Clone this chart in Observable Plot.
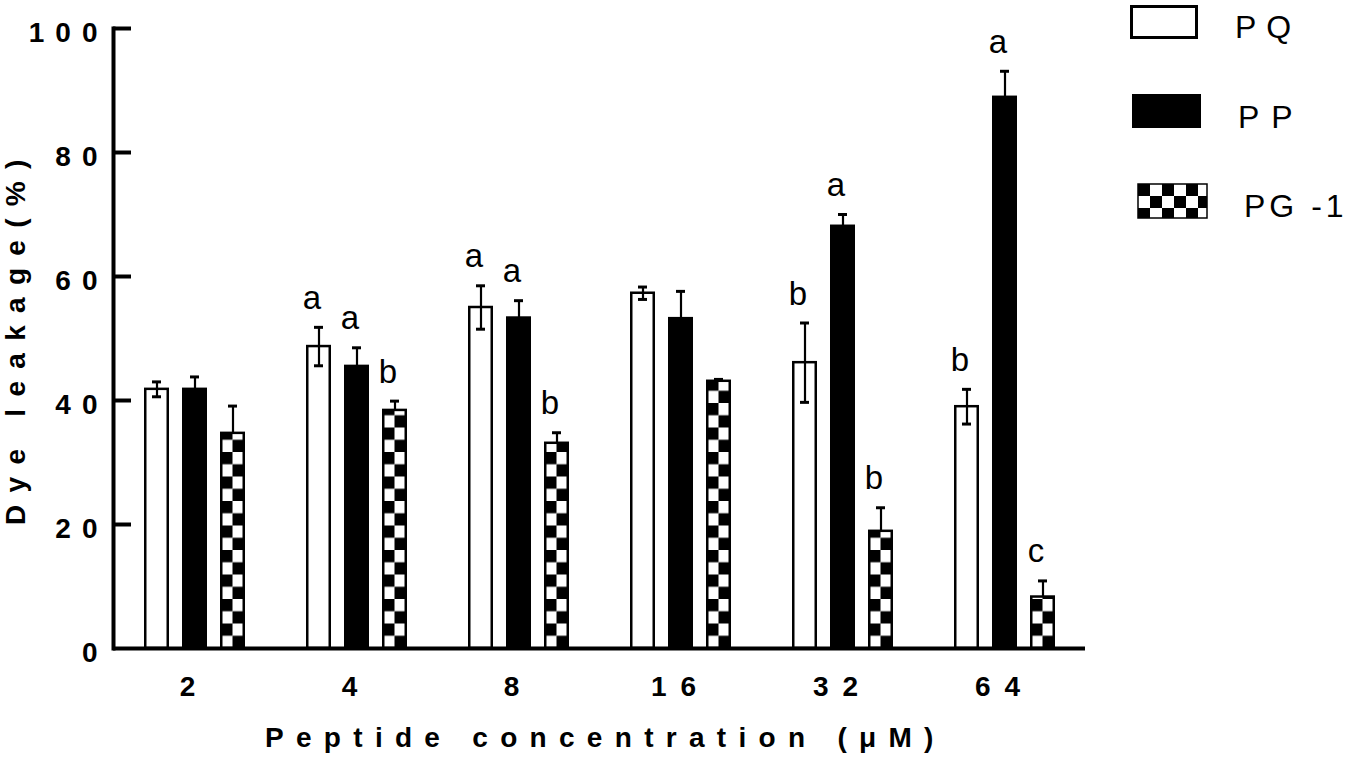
<!DOCTYPE html>
<html>
<head>
<meta charset="utf-8">
<script src="https://cdn.jsdelivr.net/npm/d3@7"></script>
<script src="https://cdn.jsdelivr.net/npm/@observablehq/plot@0.6"></script>
<style>
  html, body { margin: 0; padding: 0; background: #fff; }
  #wrap { position: relative; width: 1350px; height: 758px; overflow: hidden; font-family: "Liberation Sans", Arial, sans-serif; }
  #legend { position: absolute; left: 1100px; top: 0px; }
</style>
</head>
<body>
<div id="wrap"></div>
<script>
// ---- data ----
const concentrations = ["2", "4", "8", "16", "32", "64"];
const seriesNames = ["PQ", "PP", "PG-1"];
const pqValues = [41.8, 48.7, 55.0, 57.3, 46.1, 39.0];
const pqErrors = [1.2, 3.1, 3.5, 1.0, 6.4, 2.8];
const ppValues = [41.8, 45.5, 53.3, 53.2, 68.1, 88.9];
const ppErrors = [2.0, 3.0, 2.8, 4.4, 1.9, 4.2];
const pgValues = [34.7, 38.4, 33.1, 43.1, 18.9, 8.3];
const pgErrors = [4.4, 1.5, 1.7, 0.3, 3.8, 2.6];
const pqLetters = ["", "a", "a", "", "b", "b"];
const ppLetters = ["", "a", "a", "", "a", "a"];
const pgLetters = ["", "b", "b", "", "b", "c"];
const yTicks = [0, 20, 40, 60, 80, 100];
const xTitle = "Peptide concentration (μM)";
const yTitle = "Dye leakage(%)";

const seriesTable = [
  {name: "PQ", values: pqValues, errors: pqErrors, letters: pqLetters},
  {name: "PP", values: ppValues, errors: ppErrors, letters: ppLetters},
  {name: "PG-1", values: pgValues, errors: pgErrors, letters: pgLetters}
];
const rows = [];
for (const s of seriesTable) {
  concentrations.forEach((c, i) => {
    rows.push({conc: c, series: s.name, value: s.values[i], error: s.errors[i], letter: s.letters[i]});
  });
}

const W = 1350, H = 758;
const mL = 113, mR = 265, mT = 28, mB = 110;
const facetW = (W - mL - mR) / concentrations.length;
const font = '"Liberation Sans", Arial, sans-serif';

const plot = Plot.plot({
  width: W, height: H,
  marginLeft: mL, marginRight: mR, marginTop: mT, marginBottom: mB,
  style: {fontFamily: font, background: "white", color: "black", overflow: "visible"},
  fx: {domain: concentrations, padding: 0, label: null, axis: null},
  x: {domain: seriesNames, paddingInner: 0.35, paddingOuter: 0.78, axis: null},
  y: {domain: [0, 100], axis: null, label: null},
  color: {type: "ordinal", domain: seriesNames, range: ["white", "black", "url(#checker)"]},
  marks: [
    Plot.barY(rows, {fx: "conc", x: "series", y: "value", fill: "series", stroke: "black", strokeWidth: 2.5, insetLeft: 1.25, insetRight: 1.25}),
    // error bars: both directions for open bars, upward for filled bars
    Plot.ruleX(rows, {fx: "conc", x: "series", y1: d => d.series === "PQ" ? d.value - d.error : d.value, y2: d => d.value + d.error, stroke: "black", strokeWidth: 2.2}),
    Plot.tickY(rows, {fx: "conc", x: "series", y: d => d.value + d.error, stroke: "black", strokeWidth: 3, insetLeft: 8, insetRight: 8}),
    Plot.tickY(rows.filter(d => d.series === "PQ"), {fx: "conc", x: "series", y: d => d.value - d.error, stroke: "black", strokeWidth: 3, insetLeft: 8, insetRight: 8}),
    // significance letters
    Plot.text(rows.filter(d => d.letter), {fx: "conc", x: "series", y: d => d.value + d.error, text: "letter", dy: -29, dx: -7, fontSize: 33, lineAnchor: "middle", fill: "black"}),
    // axes
    Plot.ruleY([0], {stroke: "black", strokeWidth: 4}),
    Plot.frame({anchor: "left", facetAnchor: "left", stroke: "black", strokeWidth: 4, strokeLinecap: "square"}),
    Plot.ruleY(yTicks.filter(t => t > 0), {facetAnchor: "left", stroke: "black", strokeWidth: 4, insetRight: facetW - 18}),
    Plot.axisY(yTicks, {tickSize: 0, tickPadding: 5, fontSize: 28, fontWeight: "bold", dy: 5, fill: "black", label: null}),
    Plot.axisFx({anchor: "bottom", tickSize: 0, tickPadding: 28, fontSize: 28, fontWeight: "bold", label: null, fill: "black"})
  ]
});

const svg = d3.select(plot);
svg.selectAll('g[aria-label="y-axis tick label"]').attr("letter-spacing", "11px");
svg.selectAll('g[aria-label="fx-axis tick label"]').attr("letter-spacing", "14px");

// checker patterns, one per bar so squares line up with each bar
const defs = svg.insert("defs", ":first-child");
svg.selectAll('rect[fill="url(#checker)"]').each(function(d, i) {
  const r = d3.select(this);
  const x = +r.attr("x"), y = +r.attr("y"), w = +r.attr("width"), h = +r.attr("height");
  const sq = w / 2 + 1;
  const id = "checker" + i;
  const p = defs.append("pattern").attr("id", id).attr("patternUnits", "userSpaceOnUse")
    .attr("x", x - 1).attr("y", y + h).attr("width", 2 * sq).attr("height", 2 * sq);
  p.append("rect").attr("width", 2 * sq).attr("height", 2 * sq).attr("fill", "white");
  p.append("rect").attr("x", 0).attr("y", 0).attr("width", sq).attr("height", sq).attr("fill", "black");
  p.append("rect").attr("x", sq).attr("y", sq).attr("width", sq).attr("height", sq).attr("fill", "black");
  r.attr("fill", `url(#${id})`);
});

// axis titles
svg.append("text").text(xTitle)
  .attr("x", 265).attr("y", 747).attr("text-anchor", "start")
  .attr("font-size", 28).attr("font-weight", "bold").attr("letter-spacing", "12.3px")
  .attr("font-family", font).attr("fill", "black");
svg.append("text").text(yTitle)
  .attr("transform", "translate(25,525) rotate(-90)").attr("text-anchor", "start")
  .attr("font-size", 28).attr("font-weight", "bold").attr("letter-spacing", "12.3px")
  .attr("font-family", font).attr("fill", "black");

const wrap = document.getElementById("wrap");
wrap.appendChild(plot);

// legend
const leg = d3.select(wrap).append("svg").attr("id", "legend").attr("width", 250).attr("height", 240);
const ldefs = leg.append("defs");
const lp = ldefs.append("pattern").attr("id", "legchecker").attr("patternUnits", "userSpaceOnUse")
  .attr("x", 38).attr("y", 184).attr("width", 24).attr("height", 24);
lp.append("rect").attr("width", 24).attr("height", 24).attr("fill", "white");
lp.append("rect").attr("width", 12).attr("height", 12).attr("fill", "black");
lp.append("rect").attr("x", 12).attr("y", 12).attr("width", 12).attr("height", 12).attr("fill", "black");
const legendItems = [
  {label: "PQ", fill: "white", stroke: 3, rx: 31.5, ry: 6.5, rw: 65, rh: 31, tx: 135, ty: 38, ls: 10},
  {label: "PP", fill: "black", stroke: 0, rx: 32, ry: 94, rw: 69, rh: 34, tx: 138, ty: 128, ls: 12},
  {label: "PG -1", fill: "url(#legchecker)", stroke: 1.5, rx: 38, ry: 184, rw: 69, rh: 34, tx: 144, ty: 217, ls: 4}
];
for (const it of legendItems) {
  leg.append("rect").attr("x", it.rx).attr("y", it.ry).attr("width", it.rw).attr("height", it.rh)
    .attr("fill", it.fill).attr("stroke", it.stroke ? "black" : "none").attr("stroke-width", it.stroke);
  leg.append("text").text(it.label).attr("x", it.tx).attr("y", it.ty)
    .attr("font-size", 32).attr("font-family", font).attr("letter-spacing", it.ls + "px").attr("fill", "black");
}
</script>
</body>
</html>
